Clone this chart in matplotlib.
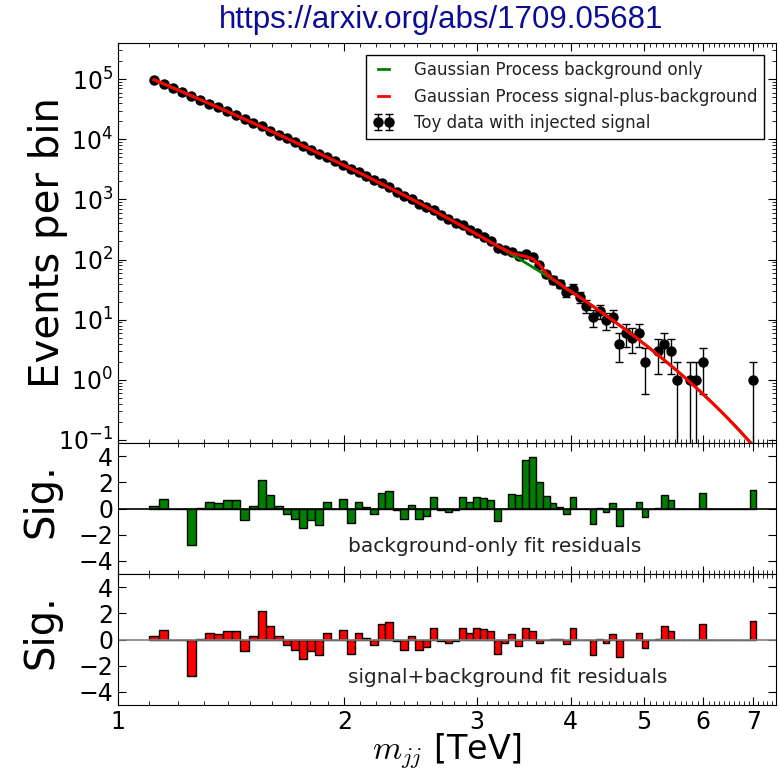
import numpy as np
import matplotlib
matplotlib.use('Agg')
import matplotlib.pyplot as plt
from matplotlib.ticker import FixedLocator, FixedFormatter, MultipleLocator, NullFormatter
from matplotlib.lines import Line2D

# bin edges of the dijet mass spectrum [TeV]
bin_edges = [1.100, 1.133, 1.166, 1.200, 1.234, 1.269, 1.305, 1.341, 1.378, 1.416,
             1.454, 1.493, 1.533, 1.573, 1.614, 1.656, 1.698, 1.741, 1.785, 1.830,
             1.875, 1.921, 1.968, 2.016, 2.065, 2.114, 2.164, 2.215, 2.267, 2.320,
             2.374, 2.429, 2.485, 2.542, 2.600, 2.659, 2.719, 2.780, 2.842, 2.905,
             2.969, 3.034, 3.100, 3.167, 3.235, 3.305, 3.376, 3.448, 3.521, 3.596,
             3.672, 3.749, 3.827, 3.907, 3.988, 4.070, 4.154, 4.239, 4.326, 4.414,
             4.504, 4.595, 4.688, 4.782, 4.878, 4.975, 5.074, 5.175, 5.277, 5.381,
             5.487, 5.595, 5.705, 5.817, 5.931, 6.047, 6.165, 6.285, 6.407, 6.531,
             6.658, 6.787, 6.918, 7.052]

# toy data counts per bin
data_counts = [97970, 84047, 71877, 61718, 52435, 45601, 39329, 33854, 29181, 25153,
               21484, 18661, 16356, 14013, 12015, 10325, 8894, 7626, 6631, 5705,
               5054, 4340, 3799, 3182, 2836, 2438, 2086, 1870, 1625, 1353,
               1147, 1022, 850, 738, 672, 555, 474, 412, 373, 315,
               276, 237, 203, 153, 142, 133, 114, 123, 109, 80,
               58, 46, 40, 29, 33, 24, 17, 11, 14, 10,
               11, 4, 6, 5, 6, 2, 0, 3, 4, 3,
               1, 0, 1, 1, 2, 0, 0, 0, 0, 0,
               0, 0, 1]

# GP background-only fit
bkg_fit = [97900, 83830, 71890, 61730, 53080, 45590, 39230, 33780, 29070, 25050,
           21610, 18630, 16080, 13890, 11990, 10370, 8970, 7756, 6701, 5798,
           5021, 4343, 3756, 3246, 2809, 2432, 2104, 1820, 1573, 1359,
           1174, 1013, 873, 753, 649, 559, 481, 414, 356, 306,
           262.6, 225.4, 193.3, 165.8, 141.8, 121.2, 103.5, 88.3, 75.2, 63.9,
           54.3, 46.1, 39.1, 33.0, 27.9, 23.6, 19.8, 16.7, 14.0, 11.7,
           9.77, 8.14, 6.77, 5.62, 4.65, 3.84, 3.16, 2.59, 2.12, 1.73,
           1.41, 1.14, 0.919, 0.738, 0.590, 0.469, 0.372, 0.293, 0.230, 0.179,
           0.1385, 0.1066, 0.0815]

# GP signal-plus-background fit
sig_bkg_fit = [97900, 83830, 71890, 61730, 53080, 45590, 39230, 33780, 29070, 25050,
               21610, 18630, 16080, 13890, 11990, 10370, 8970, 7756, 6701, 5798,
               5021, 4343, 3756, 3246, 2809, 2432, 2104, 1820, 1573, 1359,
               1174, 1013, 873, 753, 649, 559, 481, 414, 356, 306,
               262.6, 225.4, 193.3, 166.0, 146.0, 128.0, 119.0, 113.0, 103.0, 83.0,
               59.0, 47.0, 40.0, 32.5, 27.9, 23.6, 19.8, 16.7, 14.0, 11.7,
               9.77, 8.14, 6.77, 5.62, 4.65, 3.84, 3.16, 2.59, 2.12, 1.73,
               1.41, 1.14, 0.919, 0.738, 0.590, 0.469, 0.372, 0.293, 0.230, 0.179,
               0.1385, 0.1066, 0.0815]

# significance of residuals
resid_bkg = [0.23, 0.75, -0.05, -0.05, -2.8, 0.05, 0.5, 0.4, 0.65, 0.65,
             -0.86, 0.23, 2.18, 1.04, 0.23, -0.44, -0.8, -1.48, -0.86, -1.22,
             0.47, -0.05, 0.7, -1.12, 0.5, 0.13, -0.4, 1.17, 1.3, -0.15,
             -0.78, 0.28, -0.78, -0.55, 0.9, -0.15, -0.3, -0.1, 0.9, 0.5,
             0.85, 0.78, 0.68, -0.99, 0.0, 1.1, 1.05, 3.7, 3.95, 2.0,
             0.95, 0.45, 0.15, -0.4, 0.85, 0.0, 0.0, -1.2, 0.05, -0.25,
             0.4, -1.3, 0.0, 0.0, 0.5, -0.62, 0.0, 0.05, 1.05, 0.65,
             0.0, 0.0, 0.0, 0.0, 1.2, 0.0, 0.0, 0.0, 0.0, 0.0,
             0.0, 0.0, 1.42]

resid_sig = [0.23, 0.75, -0.05, -0.05, -2.8, 0.05, 0.5, 0.4, 0.65, 0.65,
             -0.86, 0.23, 2.18, 1.04, 0.23, -0.44, -0.8, -1.48, -0.86, -1.22,
             0.47, -0.05, 0.7, -1.12, 0.5, 0.13, -0.4, 1.17, 1.3, -0.15,
             -0.78, 0.28, -0.78, -0.55, 0.9, -0.15, -0.3, -0.1, 0.9, 0.5,
             0.85, 0.78, 0.68, -1.08, -0.3, 0.45, -0.5, 0.9, 0.64, -0.3,
             0.0, 0.05, 0.05, -0.38, 0.9, 0.0, 0.0, -1.2, 0.05, -0.25,
             0.4, -1.3, 0.0, 0.0, 0.5, -0.62, 0.0, 0.05, 1.05, 0.65,
             0.0, 0.0, 0.0, 0.0, 1.2, 0.0, 0.0, 0.0, 0.0, 0.0,
             0.0, 0.0, 1.42]

xtick_vals = [1, 2, 3, 4, 5, 6, 7]
xtick_labels = ['1', '2', '3', '4', '5', '6', '7']

plt.rcParams.update({
    'font.family': 'DejaVu Sans',
    'mathtext.fontset': 'cm',
    'xtick.direction': 'in', 'ytick.direction': 'in',
    'xtick.top': True, 'ytick.right': True,
    'xtick.major.size': 6, 'xtick.minor.size': 3,
    'ytick.major.size': 6, 'ytick.minor.size': 3,
    'xtick.labelsize': 17, 'ytick.labelsize': 17,
})

edges = np.array(bin_edges)
centers = 0.5 * (edges[:-1] + edges[1:])
widths = np.diff(edges)
counts = np.array(data_counts, dtype=float)
has_data = counts > 0

fig = plt.figure(figsize=(7.8, 7.73), dpi=100)
ax = fig.add_axes([0.1513, 0.4269, 0.8436, 0.5175])
ax_r1 = fig.add_axes([0.1513, 0.2574, 0.8436, 0.1695], sharex=ax)
ax_r2 = fig.add_axes([0.1513, 0.0880, 0.8436, 0.1694], sharex=ax)

# main spectrum
ax.errorbar(centers[has_data], counts[has_data], yerr=np.sqrt(counts[has_data]),
            fmt='o', color='k', ms=6.5, capsize=3, elinewidth=1, zorder=2)
ax.plot(centers, bkg_fit, color='g', lw=2, zorder=3)
ax.plot(centers, sig_bkg_fit, color='r', lw=2.2, zorder=4)
ax.set_xscale('log')
ax.set_yscale('log')
ax.set_xlim(1, 7.5)
ax.set_ylim(0.089, 4e5)
ax.set_ylabel('Events per bin', fontsize=29)
ax.yaxis.set_label_coords(-0.076, 0.5)

handles = [Line2D([], [], color='g', lw=2),
           Line2D([], [], color='r', lw=2),
           ax.containers[0]]
labels = ['Gaussian Process background only',
          'Gaussian Process signal-plus-background',
          'Toy data with injected signal']
leg = ax.legend(handles, labels, loc='upper right', numpoints=2, fontsize=12,
                fancybox=False, framealpha=1, edgecolor='k', handlelength=1.3,
                handletextpad=1.2, borderaxespad=0.7)
leg.get_frame().set_linewidth(1)
for t in leg.get_texts():
    t.set_color('#222222')

# residual panels
for axr, vals, col, zl, text in [
        (ax_r1, resid_bkg, 'g', 'k', 'background-only fit residuals'),
        (ax_r2, resid_sig, 'r', 'gray', 'signal+background fit residuals')]:
    axr.bar(edges[:-1], vals, width=widths, align='edge', color=col,
            edgecolor='k', linewidth=1)
    axr.axhline(0, color=zl, lw=1.2)
    axr.set_ylim(-5, 5)
    axr.set_yticks([-4, -2, 0, 2, 4])
    axr.set_ylabel('Sig.', fontsize=29)
    axr.yaxis.set_label_coords(-0.086, 0.56)
    axr.text(0.35, 0.21, text, transform=axr.transAxes, fontsize=14.5,
             ha='left', va='center', color='#222222')

for a in (ax, ax_r1, ax_r2):
    a.xaxis.set_major_locator(FixedLocator(xtick_vals))
    a.xaxis.set_major_formatter(FixedFormatter(xtick_labels))
    a.xaxis.set_minor_locator(MultipleLocator(0.1))
    a.xaxis.set_minor_formatter(NullFormatter())
plt.setp(ax.get_xticklabels(), visible=False)
plt.setp(ax_r1.get_xticklabels(), visible=False)

ax_r2.set_xlabel(r'$m_{jj}$ [TeV]', fontsize=24)
ax_r2.xaxis.set_label_coords(0.5, -0.2)

fig.text(0.566, 0.974, 'https://arxiv.org/abs/1709.05681', ha='center', va='center',
         fontsize=22.5, color='#0c0c94', family='Liberation Sans')

fig.savefig('out.png', dpi=100, facecolor='white')
